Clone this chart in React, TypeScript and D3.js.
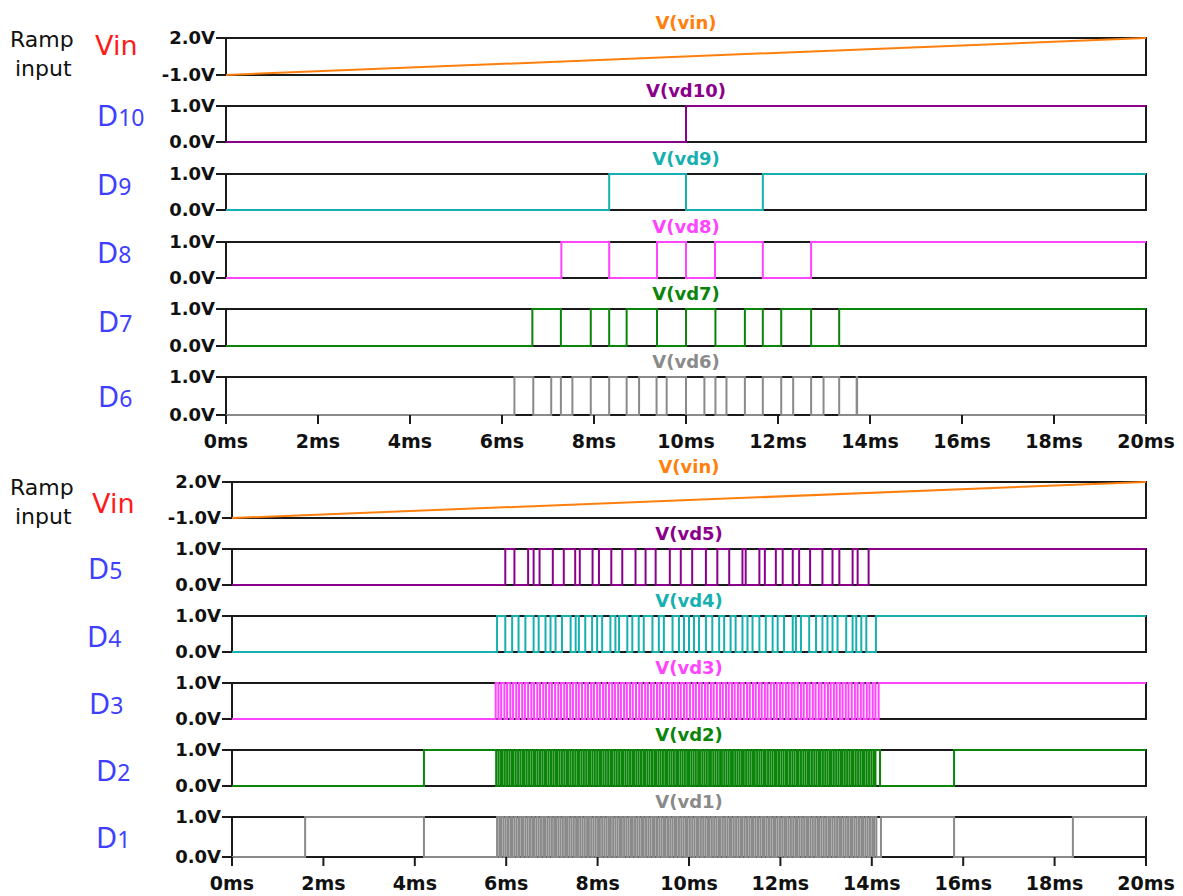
import React from 'react';
import * as d3 from 'd3';

// time axis (ms)
const timeTicks = [0, 2, 4, 6, 8, 10, 12, 14, 16, 18, 20];

// ramp input: [time, volts]
const vinTimes = [0, 20];
const vinValues = [-1, 2];

// digital outputs: edge times (ms), level starts at 0 and toggles at each edge
const d10Edges = [10];
const d9Edges = [8.33, 10, 11.67];
const d8Edges = [7.29, 8.33, 9.37, 10, 10.63, 11.67, 12.72];
const d7Edges = [6.66, 7.28, 7.93, 8.33, 8.71, 9.37, 10, 10.64, 11.28, 11.67, 12.07, 12.72, 13.33];
const d6Edges = [6.27, 6.68, 7.07, 7.28, 7.53, 7.93, 8.33, 8.71, 8.98, 9.36, 9.58, 10.0, 10.4, 10.64, 10.88,
  11.28, 11.67, 12.07, 12.33, 12.72, 12.99, 13.33, 13.71, 13.72];

const d5Edges = [5.98, 6.18, 6.48, 6.6, 6.73, 7.02, 7.26, 7.51, 7.61, 7.89, 8.03, 8.3, 8.54, 8.83, 9.05, 9.27,
  9.58, 9.82, 10.07, 10.37, 10.62, 10.88, 11.17, 11.24, 11.54, 11.66, 11.9, 12.05, 12.27, 12.41, 12.65, 12.92,
  13.14, 13.29, 13.58, 13.69, 13.93];
const d4Edges = [5.8, 5.98, 6.13, 6.27, 6.42, 6.6, 6.71, 6.86, 6.97, 7.08, 7.22, 7.41, 7.52, 7.59, 7.73, 7.88,
  7.99, 8.1, 8.28, 8.39, 8.47, 8.65, 8.76, 8.9, 9.01, 9.2, 9.34, 9.45, 9.64, 9.78, 9.89, 10.0, 10.11, 10.22,
  10.37, 10.51, 10.66, 10.77, 10.91, 11.02, 11.17, 11.28, 11.39, 11.54, 11.68, 11.83, 11.94, 12.08, 12.27,
  12.34, 12.45, 12.63, 12.78, 12.92, 13.03, 13.14, 13.25, 13.44, 13.58, 13.66, 13.77, 13.88, 14.09];
const d3Edges = [5.77, 5.83, 5.89, 5.96, 6.02, 6.09, 6.15, 6.22, 6.28, 6.35, 6.41, 6.48, 6.55, 6.61, 6.68, 6.74,
  6.81, 6.87, 6.94, 7.0, 7.07, 7.14, 7.2, 7.27, 7.33, 7.4, 7.46, 7.53, 7.59, 7.66, 7.73, 7.79, 7.86, 7.92, 7.99,
  8.05, 8.12, 8.18, 8.25, 8.32, 8.38, 8.45, 8.51, 8.58, 8.64, 8.71, 8.77, 8.84, 8.91, 8.97, 9.04, 9.1, 9.17,
  9.23, 9.3, 9.36, 9.43, 9.5, 9.56, 9.63, 9.69, 9.76, 9.82, 9.89, 9.95, 10.02, 10.09, 10.15, 10.22, 10.28,
  10.35, 10.41, 10.48, 10.54, 10.61, 10.68, 10.74, 10.81, 10.87, 10.94, 11.0, 11.07, 11.13, 11.2, 11.27, 11.33,
  11.4, 11.46, 11.53, 11.59, 11.66, 11.72, 11.79, 11.86, 11.92, 11.99, 12.05, 12.12, 12.18, 12.25, 12.31,
  12.38, 12.45, 12.51, 12.58, 12.64, 12.71, 12.77, 12.84, 12.9, 12.97, 13.04, 13.1, 13.17, 13.23, 13.3, 13.36,
  13.43, 13.49, 13.56, 13.63, 13.69, 13.76, 13.82, 13.89, 13.95, 14.02, 14.08, 14.15];
const d2Edges = [4.2, 5.78, 5.83, 5.88, 5.92, 5.97, 6.02, 6.07, 6.12, 6.16, 6.21, 6.26, 6.31, 6.36, 6.4, 6.45,
  6.5, 6.55, 6.6, 6.64, 6.69, 6.74, 6.79, 6.84, 6.88, 6.93, 6.98, 7.03, 7.08, 7.12, 7.17, 7.22, 7.27, 7.32,
  7.36, 7.41, 7.46, 7.51, 7.56, 7.6, 7.65, 7.7, 7.75, 7.8, 7.84, 7.89, 7.94, 7.99, 8.04, 8.08, 8.13, 8.18,
  8.23, 8.28, 8.32, 8.37, 8.42, 8.47, 8.52, 8.56, 8.61, 8.66, 8.71, 8.76, 8.8, 8.85, 8.9, 8.95, 9.0, 9.04,
  9.09, 9.14, 9.19, 9.24, 9.28, 9.33, 9.38, 9.43, 9.48, 9.52, 9.57, 9.62, 9.67, 9.72, 9.76, 9.81, 9.86, 9.91,
  9.96, 10.0, 10.05, 10.1, 10.15, 10.2, 10.24, 10.29, 10.34, 10.39, 10.44, 10.48, 10.53, 10.58, 10.63, 10.68,
  10.72, 10.77, 10.82, 10.87, 10.92, 10.96, 11.01, 11.06, 11.11, 11.16, 11.2, 11.25, 11.3, 11.35, 11.4, 11.44,
  11.49, 11.54, 11.59, 11.64, 11.68, 11.73, 11.78, 11.83, 11.88, 11.92, 11.97, 12.02, 12.07, 12.12, 12.16,
  12.21, 12.26, 12.31, 12.36, 12.4, 12.45, 12.5, 12.55, 12.6, 12.64, 12.69, 12.74, 12.79, 12.84, 12.88, 12.93,
  12.98, 13.03, 13.08, 13.12, 13.17, 13.22, 13.27, 13.32, 13.36, 13.41, 13.46, 13.51, 13.56, 13.6, 13.65,
  13.7, 13.75, 13.8, 13.84, 13.89, 13.94, 13.99, 14.04, 14.08, 14.18, 15.8];
const d1Edges = [1.6, 4.2, 5.8, 5.85, 5.89, 5.94, 5.99, 6.04, 6.09, 6.13, 6.18, 6.23, 6.28, 6.33, 6.37, 6.42,
  6.47, 6.52, 6.57, 6.61, 6.66, 6.71, 6.76, 6.81, 6.85, 6.9, 6.95, 7.0, 7.05, 7.09, 7.14, 7.19, 7.24, 7.29,
  7.33, 7.38, 7.43, 7.48, 7.53, 7.57, 7.62, 7.67, 7.72, 7.77, 7.81, 7.86, 7.91, 7.96, 8.01, 8.05, 8.1, 8.15,
  8.2, 8.25, 8.29, 8.34, 8.39, 8.44, 8.49, 8.53, 8.58, 8.63, 8.68, 8.73, 8.77, 8.82, 8.87, 8.92, 8.97, 9.01,
  9.06, 9.11, 9.16, 9.21, 9.25, 9.3, 9.35, 9.4, 9.45, 9.49, 9.54, 9.59, 9.64, 9.69, 9.73, 9.78, 9.83, 9.88,
  9.93, 9.97, 10.02, 10.07, 10.12, 10.17, 10.21, 10.26, 10.31, 10.36, 10.41, 10.45, 10.5, 10.55, 10.6, 10.65,
  10.69, 10.74, 10.79, 10.84, 10.89, 10.93, 10.98, 11.03, 11.08, 11.13, 11.17, 11.22, 11.27, 11.32, 11.37,
  11.41, 11.46, 11.51, 11.56, 11.61, 11.65, 11.7, 11.75, 11.8, 11.85, 11.89, 11.94, 11.99, 12.04, 12.09,
  12.13, 12.18, 12.23, 12.28, 12.33, 12.37, 12.42, 12.47, 12.52, 12.57, 12.61, 12.66, 12.71, 12.76, 12.81,
  12.85, 12.9, 12.95, 13.0, 13.05, 13.09, 13.14, 13.19, 13.24, 13.29, 13.33, 13.38, 13.43, 13.48, 13.53,
  13.57, 13.62, 13.67, 13.72, 13.77, 13.81, 13.86, 13.91, 13.96, 14.01, 14.05, 14.1, 14.2, 15.8, 18.4];

const C = {
  vin: '#ff7f0e',
  purple: '#8b008b',
  teal: '#17b0b0',
  pink: '#ff44ff',
  green: '#0a850a',
  gray: '#8a8a8a',
  blue: '#3f3fff',
  red: '#ff1a1a',
};

const tickFont = '"DejaVu Sans", Verdana, sans-serif';
const labelFont = '"Noto Sans", "Open Sans", sans-serif';
const sideFont = '"DejaVu Sans", sans-serif';

type Panel = {
  name: string;
  bit?: string;
  color: string;
  top: number;
  h: number;
  edges?: number[];
  labelX: number;
  labelY: number;
};

const topGroup = {
  x0: 226,
  x1: 1146,
  rampY: 47,
  panels: [
    { name: 'V(vin)', color: C.vin, top: 38, h: 37, labelX: 95, labelY: 55 },
    { name: 'V(vd10)', bit: '10', color: C.purple, top: 106, h: 36, edges: d10Edges, labelX: 97, labelY: 126 },
    { name: 'V(vd9)', bit: '9', color: C.teal, top: 174, h: 36, edges: d9Edges, labelX: 97, labelY: 195 },
    { name: 'V(vd8)', bit: '8', color: C.pink, top: 242, h: 36, edges: d8Edges, labelX: 97, labelY: 263 },
    { name: 'V(vd7)', bit: '7', color: C.green, top: 309, h: 37, edges: d7Edges, labelX: 98, labelY: 332 },
    { name: 'V(vd6)', bit: '6', color: C.gray, top: 377, h: 38, edges: d6Edges, labelX: 98, labelY: 407 },
  ] as Panel[],
};

const bottomGroup = {
  x0: 232,
  x1: 1146,
  rampY: 495,
  panels: [
    { name: 'V(vin)', color: C.vin, top: 482, h: 36, labelX: 92, labelY: 513 },
    { name: 'V(vd5)', bit: '5', color: C.purple, top: 549, h: 36, edges: d5Edges, labelX: 88, labelY: 579 },
    { name: 'V(vd4)', bit: '4', color: C.teal, top: 616, h: 36, edges: d4Edges, labelX: 87, labelY: 647 },
    { name: 'V(vd3)', bit: '3', color: C.pink, top: 683, h: 36, edges: d3Edges, labelX: 89, labelY: 714 },
    { name: 'V(vd2)', bit: '2', color: C.green, top: 750, h: 36, edges: d2Edges, labelX: 96, labelY: 781 },
    { name: 'V(vd1)', bit: '1', color: C.gray, top: 817, h: 40, edges: d1Edges, labelX: 96, labelY: 848 },
  ] as Panel[],
};

const stepPoints = (edges: number[]) => {
  const pts: [number, number][] = [[0, 0]];
  let lv = 0;
  edges.forEach(t => {
    pts.push([t, lv]);
    lv = 1 - lv;
    pts.push([t, lv]);
  });
  pts.push([20, lv]);
  return pts;
};

const Group = ({ g }: { g: typeof topGroup }) => {
  const x = d3.scaleLinear().domain([0, 20]).range([g.x0, g.x1]);
  const last = g.panels[g.panels.length - 1];
  const axisY = last.top + last.h;

  return (
    <g>
      <text x={10} y={g.rampY} fontFamily={sideFont} fontSize={22} fill="#111">Ramp</text>
      <text x={15} y={g.rampY + 29} fontFamily={sideFont} fontSize={22} fill="#111">input</text>

      {g.panels.map((p, i) => {
        const isVin = !p.edges;
        const y = d3.scaleLinear()
          .domain(isVin ? [-1, 2] : [0, 1])
          .range([p.top + p.h, p.top]);
        const line = d3.line<[number, number]>()
          .x(d => x(d[0]))
          .y(d => y(d[1]));
        const pts: [number, number][] = isVin
          ? vinTimes.map((t, k) => [t, vinValues[k]])
          : stepPoints(p.edges!);
        const ticks = isVin ? [2, -1] : [1, 0];
        return (
          <g key={i}>
            {/* frame */}
            <rect x={x(0)} y={p.top} width={x(20) - x(0)} height={p.h}
              fill="none" stroke="#1a1a1a" strokeWidth={2} />
            {ticks.map(v => (
              <g key={v}>
                <line x1={x(0) - 10} x2={x(0)} y1={y(v)} y2={y(v)} stroke="#1a1a1a" strokeWidth={2} />
                <text x={x(0) - 11} y={y(v)} dy="0.36em" textAnchor="end"
                  fontFamily={tickFont} fontWeight="bold" fontSize={18} fill="#111">
                  {v.toFixed(1) + 'V'}
                </text>
              </g>
            ))}
            <path d={line(pts) || ''} fill="none" stroke={p.color} strokeWidth={2}
              strokeLinejoin="miter" />
            <text x={x(10)} y={p.top - 9} textAnchor="middle" fontFamily={tickFont}
              fontWeight="bold" fontSize={18} fill={p.color}>{p.name}</text>
            {isVin ? (
              <text x={p.labelX} y={p.labelY} fontFamily={sideFont} fontSize={27} fill={C.red}>Vin</text>
            ) : (
              <text x={p.labelX} y={p.labelY} fontFamily={labelFont} fill={C.blue}>
                <tspan fontSize={29}>D</tspan>
                <tspan fontSize={23}>{p.bit}</tspan>
              </text>
            )}
          </g>
        );
      })}

      {timeTicks.map(t => (
        <g key={t}>
          <line x1={x(t)} x2={x(t)} y1={axisY} y2={axisY + 9} stroke="#1a1a1a" strokeWidth={2} />
          <text x={x(t)} y={axisY + 33} textAnchor="middle" fontFamily={tickFont}
            fontWeight="bold" fontSize={19} fill="#111">{t + 'ms'}</text>
        </g>
      ))}
    </g>
  );
};

export default function App() {
  return (
    <svg width={1183} height={896} style={{ display: 'block', position: 'absolute', left: 0, top: 0 }}>
      <rect width={1183} height={896} fill="#fff" />
      <Group g={topGroup} />
      <Group g={bottomGroup} />
    </svg>
  );
}
